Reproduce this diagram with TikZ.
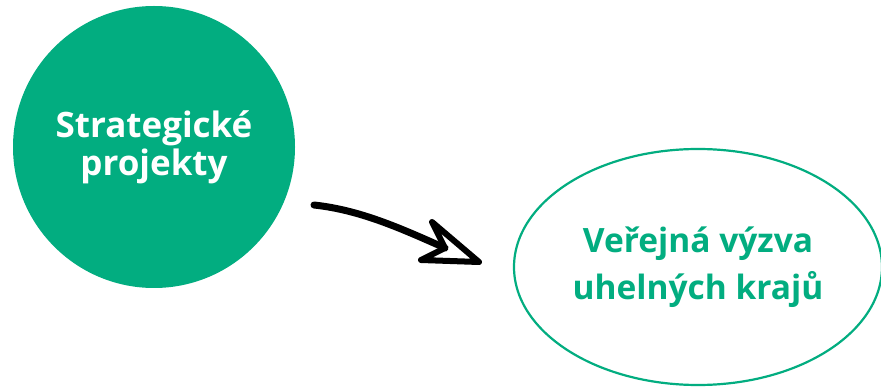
\documentclass[tikz,border=0pt]{standalone}
\usepackage{fontspec}
\setmainfont{Open Sans}
\usepackage{xcolor}
\usetikzlibrary{positioning, shapes.geometric}

\definecolor{zelena}{RGB}{2,173,128}

\begin{document}
\begin{tikzpicture}[
                x=1pt, y=-1pt,
                bublina/.style={circle, fill=zelena, text=white, minimum size=282pt,
                    inner sep=0pt, align=center, font=\bfseries\fontsize{35}{38}\selectfont},
                ovaal/.style={ellipse, draw=zelena, line width=2.2pt, text=zelena,
                    minimum width=368pt, minimum height=236pt, inner sep=0pt,
                    align=center, font=\bfseries\fontsize{33.5}{47}\selectfont},
                stetec/.style={line width=7pt, line cap=round, line join=round}
            ]
                \useasboundingbox[fill=white] (0,0) rectangle (881,387);

                \node[bublina] (SP) at (154,147) {Strategické\\projekty};
                \node[ovaal] (VV) at (698,267) {\raisebox{-4pt}{Veřejná výzva}\\\raisebox{-4pt}{uhelných krajů}};

                % rucne kreslena sipka
                \coordinate (zacatek) at (314,205);
                \coordinate (zlom) at (445,248);
                \coordinate (horni) at (432,222);
                \coordinate (spicka) at (479,262);
                \coordinate (dolni) at (421,260);

                \draw[stetec] (zacatek) .. controls (360,210) and (400,228) .. (zlom);
                \draw[stetec, line width=6pt] (zlom) -- (horni) -- (spicka) -- (dolni) -- cycle;
            \end{tikzpicture}
\end{document}
